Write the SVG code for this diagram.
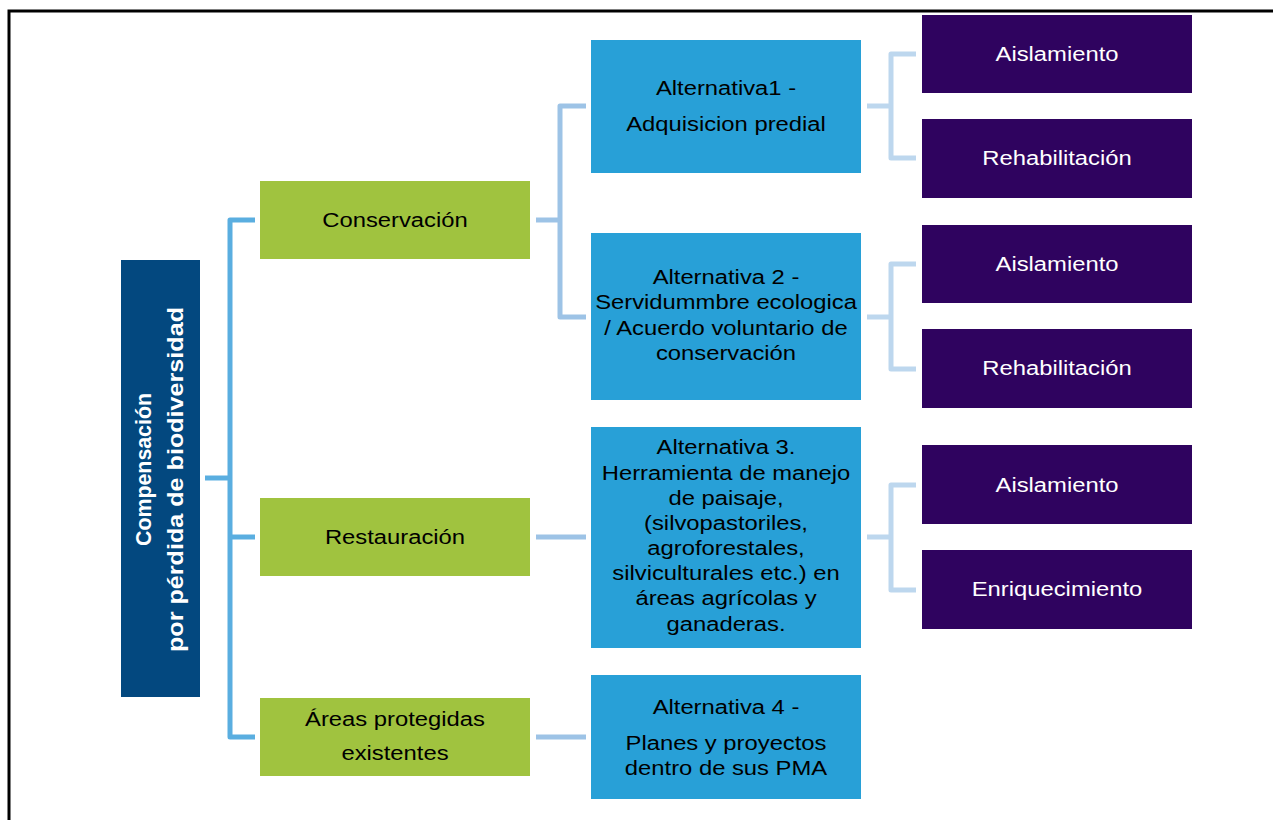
<svg xmlns="http://www.w3.org/2000/svg" width="1273" height="820" viewBox="0 0 1273 820">
  <style>
    .root { fill: #03487f; }
    .lvl1 { fill: #a0c33f; }
    .lvl2 { fill: #28a0d7; }
    .lvl3 { fill: #2f035f; }
    text { font-family: "Liberation Sans", Arial, sans-serif; font-size: 20px; text-anchor: middle; }
    .dark { fill: #000000; }
    .light { fill: #ffffff; }
    .bold { font-weight: bold; font-size: 22px; }
    .c1 { fill: none; stroke: #5aaee0; stroke-width: 5; stroke-linejoin: round; }
    .c2 { fill: none; stroke: #9dc3e6; stroke-width: 5; stroke-linejoin: round; }
    .c3 { fill: none; stroke: #bdd7ee; stroke-width: 5; stroke-linejoin: round; }
    .frame { fill: none; stroke: #000000; stroke-width: 3; }
  </style>

  <rect width="1273" height="820" fill="#ffffff"/>

  <!-- page frame -->
  <path class="frame" d="M9,820 V11 H1273"/>

  <!-- connectors -->
  <g id="connectors">
    <path class="c1" d="M255,220 H230 V737 H255"/>
    <path class="c1" d="M205,478 H230"/>
    <path class="c1" d="M230,537 H255"/>

    <path class="c2" d="M536,220 H560"/>
    <path class="c2" d="M586,106 H560 V317 H586"/>
    <path class="c2" d="M536,537 H586"/>
    <path class="c2" d="M536,737 H586"/>

    <path class="c3" d="M867,106 H891"/>
    <path class="c3" d="M916,54 H891 V158 H916"/>
    <path class="c3" d="M867,317 H891"/>
    <path class="c3" d="M916,264 H891 V369 H916"/>
    <path class="c3" d="M867,537 H891"/>
    <path class="c3" d="M916,485 H891 V590 H916"/>
  </g>

  <!-- root -->
  <g id="node-root">
    <rect class="root" x="121" y="260" width="79" height="437"/>
    <text class="light bold" transform="translate(151,469.5) rotate(-90)" textLength="153" lengthAdjust="spacingAndGlyphs">Compensación</text>
    <text class="light bold" transform="translate(183,479.5) rotate(-90)" textLength="345" lengthAdjust="spacingAndGlyphs">por pérdida de biodiversidad</text>
  </g>

  <!-- first level -->
  <g id="node-conservacion">
    <rect class="lvl1" x="260" y="181" width="270" height="78"/>
    <text class="dark" transform="translate(395,0) scale(1.19,1)"><tspan x="0" y="227">Conservación</tspan></text>
  </g>
  <g id="node-restauracion">
    <rect class="lvl1" x="260" y="498" width="270" height="78"/>
    <text class="dark" transform="translate(395,0) scale(1.19,1)"><tspan x="0" y="544">Restauración</tspan></text>
  </g>
  <g id="node-areas">
    <rect class="lvl1" x="260" y="698" width="270" height="78"/>
    <text class="dark" transform="translate(395,0) scale(1.19,1)"><tspan x="0" y="726">Áreas protegidas</tspan><tspan x="0" y="760">existentes</tspan></text>
  </g>

  <!-- second level -->
  <g id="node-alt1">
    <rect class="lvl2" x="591" y="40" width="270" height="133"/>
    <text class="dark" transform="translate(726,0) scale(1.19,1)"><tspan x="0" y="95">Alternativa1 -</tspan><tspan x="0" y="131">Adquisicion predial</tspan></text>
  </g>
  <g id="node-alt2">
    <rect class="lvl2" x="591" y="233" width="270" height="167"/>
    <text class="dark" transform="translate(726,0) scale(1.19,1)"><tspan x="0" y="284">Alternativa 2 -</tspan><tspan x="0" y="309">Servidummbre ecologica</tspan><tspan x="0" y="335">/ Acuerdo voluntario de</tspan><tspan x="0" y="360">conservación</tspan></text>
  </g>
  <g id="node-alt3">
    <rect class="lvl2" x="591" y="427" width="270" height="221"/>
    <text class="dark" transform="translate(726,0) scale(1.19,1)"><tspan x="0" y="454">Alternativa 3.</tspan><tspan x="0" y="480">Herramienta de manejo</tspan><tspan x="0" y="505">de paisaje,</tspan><tspan x="0" y="530">(silvopastoriles,</tspan><tspan x="0" y="555">agroforestales,</tspan><tspan x="0" y="580">silviculturales etc.) en</tspan><tspan x="0" y="605">áreas agrícolas y</tspan><tspan x="0" y="631">ganaderas.</tspan></text>
  </g>
  <g id="node-alt4">
    <rect class="lvl2" x="591" y="675" width="270" height="124"/>
    <text class="dark" transform="translate(726,0) scale(1.19,1)"><tspan x="0" y="714">Alternativa 4 -</tspan><tspan x="0" y="750">Planes y proyectos</tspan><tspan x="0" y="775">dentro de sus PMA</tspan></text>
  </g>

  <!-- third level -->
  <g id="node-alt1-aislamiento">
    <rect class="lvl3" x="922" y="15" width="270" height="78"/>
    <text class="light" transform="translate(1057,0) scale(1.19,1)"><tspan x="0" y="61">Aislamiento</tspan></text>
  </g>
  <g id="node-alt1-rehabilitacion">
    <rect class="lvl3" x="922" y="119" width="270" height="79"/>
    <text class="light" transform="translate(1057,0) scale(1.19,1)"><tspan x="0" y="165">Rehabilitación</tspan></text>
  </g>
  <g id="node-alt2-aislamiento">
    <rect class="lvl3" x="922" y="225" width="270" height="78"/>
    <text class="light" transform="translate(1057,0) scale(1.19,1)"><tspan x="0" y="271">Aislamiento</tspan></text>
  </g>
  <g id="node-alt2-rehabilitacion">
    <rect class="lvl3" x="922" y="329" width="270" height="79"/>
    <text class="light" transform="translate(1057,0) scale(1.19,1)"><tspan x="0" y="375">Rehabilitación</tspan></text>
  </g>
  <g id="node-alt3-aislamiento">
    <rect class="lvl3" x="922" y="445" width="270" height="79"/>
    <text class="light" transform="translate(1057,0) scale(1.19,1)"><tspan x="0" y="492">Aislamiento</tspan></text>
  </g>
  <g id="node-alt3-enriquecimiento">
    <rect class="lvl3" x="922" y="550" width="270" height="79"/>
    <text class="light" transform="translate(1057,0) scale(1.19,1)"><tspan x="0" y="596">Enriquecimiento</tspan></text>
  </g>
</svg>
